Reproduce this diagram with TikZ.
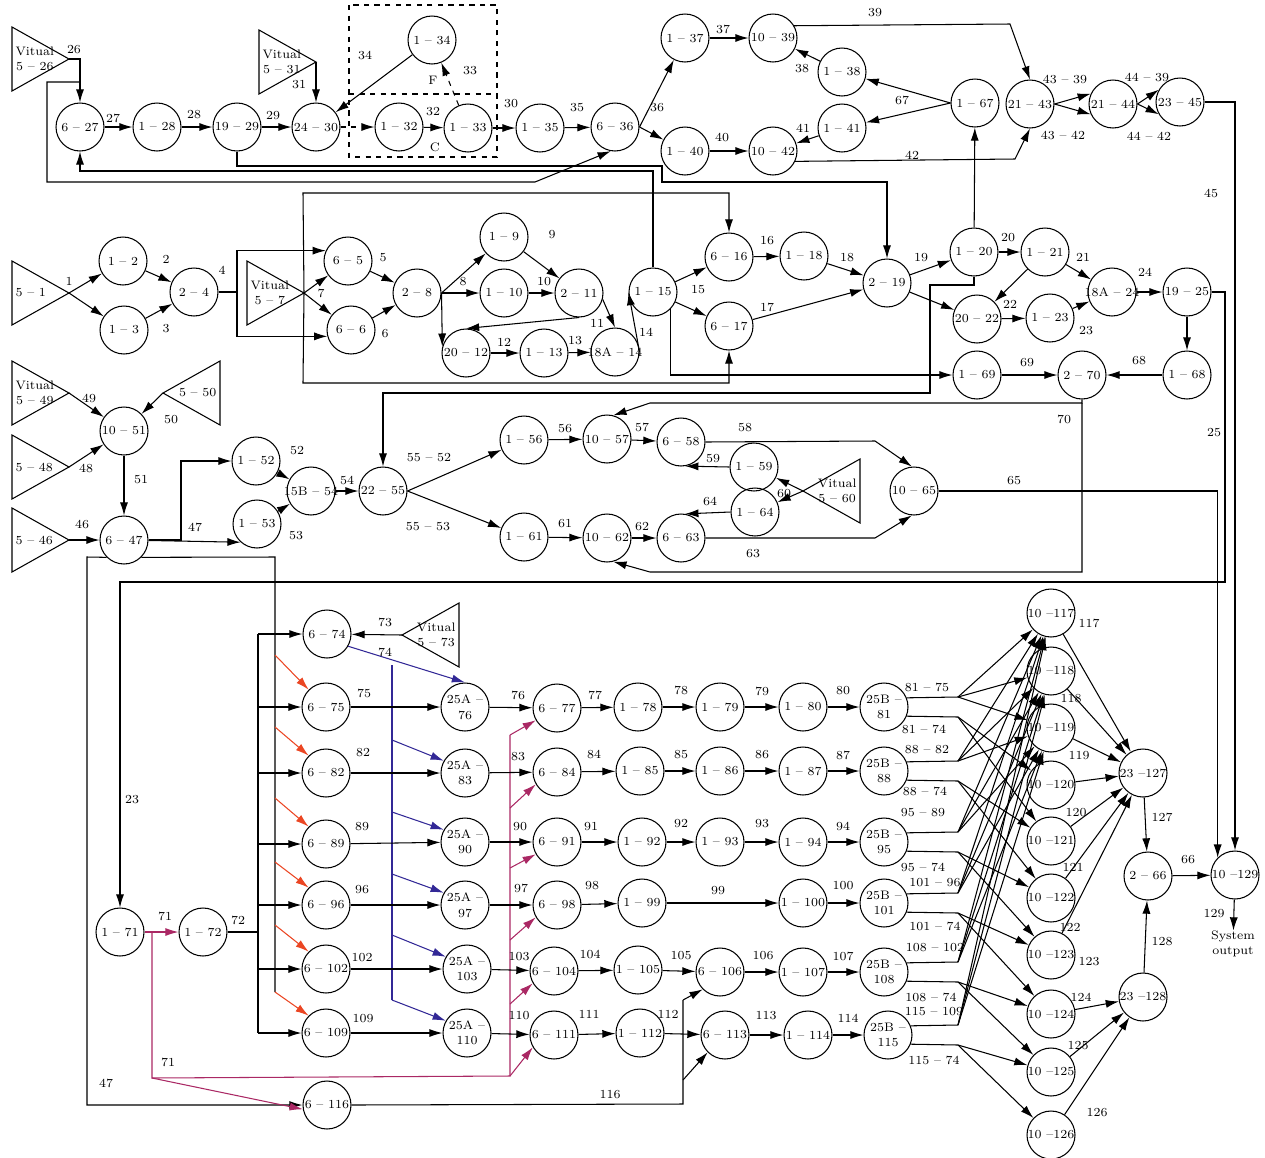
\documentclass[tikz,border=0pt]{standalone}
\usepackage{tikz}
\usetikzlibrary{arrows.meta}
\definecolor{cRed}{RGB}{235,70,35}
\definecolor{cBlue}{RGB}{50,40,150}
\definecolor{cPurple}{RGB}{170,40,100}

\tikzset{
  proc/.style={circle, draw, minimum size=0.96cm, inner sep=0pt},
  lbl/.style={inner sep=0pt},
  ar/.style={-{Latex[length=7.5pt,width=4.6pt]}},
  grp/.style={draw, dashed},
}
% text that does not widen the circle
\newcommand\nlab[1]{\makebox[0pt]{#1}}
\newcommand\nlabb[2]{\makebox[0pt]{\shortstack{#1\\[1pt]#2}}}
% virtual source triangles, apex named #1
\newcommand\vtriR[4]{%
  \draw (#2,#3-32) -- (#2+57,#3) coordinate (#1) -- (#2,#3+32) -- cycle;
  \node[lbl, anchor=west, align=center] (#1t) at (#2+3,#3) {#4};}
\newcommand\vtriL[4]{%
  \draw (#2,#3-32) -- (#2-57,#3) coordinate (#1) -- (#2,#3+32) -- cycle;
  \node[lbl, anchor=east, align=center] (#1t) at (#2-3,#3) {#4};}

\begin{document}
\begin{tikzpicture}[x=0.02cm, y=-0.02cm, font=\fontsize{7}{8.5}\selectfont, line width=0.6pt]
\useasboundingbox (0,0) rectangle (1265,1157);

% top row
\vtriR{v26}{12}{59}{Vitual\\5 – 26}
\vtriR{v31}{259}{62}{Vitual\\5 – 31}
\node[proc] (n627) at (80,127) {\nlab{6 – 27}};
\node[proc] (n128) at (157,127) {\nlab{1 – 28}};
\node[proc] (n1929) at (237,127) {\nlab{19 – 29}};
\node[proc] (n2430) at (316,127) {\nlab{24 – 30}};
\node[proc] (n134) at (432,40) {\nlab{1 – 34}};
\node[proc] (n132) at (399,127) {\nlab{1 – 32}};
\node[proc] (n133) at (468,128) {\nlab{1 – 33}};
\node[proc] (n135) at (540,128) {\nlab{1 – 35}};
\node[proc] (n636) at (615,127) {\nlab{6 – 36}};
\node[proc] (n137) at (685,38) {\nlab{1 – 37}};
\node[proc] (n1039) at (773,38) {\nlab{10 – 39}};
\node[proc] (n138) at (842,72) {\nlab{1 – 38}};
\node[proc] (n141) at (842,128) {\nlab{1 – 41}};
\node[proc] (n140) at (685,151) {\nlab{1 – 40}};
\node[proc] (n1042) at (773,151) {\nlab{10 – 42}};
\node[proc] (n167) at (975,103) {\nlab{1 – 67}};
\node[proc] (n2143) at (1030,104) {\nlab{21 – 43}};
\node[proc] (n2144) at (1113,104) {\nlab{21 – 44}};
\node[proc] (n2345) at (1180,102) {\nlab{23 – 45}};
\draw[grp] (349,5) rectangle (497,157);
\draw[grp] (349,94) -- (497,94);
\node[lbl] (gF) at (433,80) {F};
\node[lbl] (gC) at (435,147) {C};

% middle row
\vtriR{v1}{12}{293}{5 – 1}
\vtriR{v7}{247}{293}{Vitual\\5 – 7}
\node[proc] (n12) at (123,261) {\nlab{1 – 2}};
\node[proc] (n13) at (124,330) {\nlab{1 – 3}};
\node[proc] (n24) at (194,292) {\nlab{2 – 4}};
\node[proc] (n65) at (348,261) {\nlab{6 – 5}};
\node[proc] (n66) at (351,330) {\nlab{6 – 6}};
\node[proc] (n28) at (417,293) {\nlab{2 – 8}};
\node[proc] (n19) at (504,237) {\nlab{1 – 9}};
\node[proc] (n110) at (504,293) {\nlab{1 – 10}};
\node[proc] (n211) at (579,293) {\nlab{2 – 11}};
\node[proc] (n2012) at (466,353) {\nlab{20 – 12}};
\node[proc] (n113) at (544,353) {\nlab{1 – 13}};
\node[proc] (n18A14) at (615,352) {\nlab{18A – 14}};
\node[proc] (n115) at (653,292) {\nlab{1 – 15}};
\node[proc] (n616) at (729,257) {\nlab{6 – 16}};
\node[proc] (n617) at (729,326) {\nlab{6 – 17}};
\node[proc] (n118) at (804,256) {\nlab{1 – 18}};
\node[proc] (n219) at (887,283) {\nlab{2 – 19}};
\node[proc] (n120) at (974,252) {\nlab{1 – 20}};
\node[proc] (n121) at (1045,252) {\nlab{1 – 21}};
\node[proc] (n2022) at (977,319) {\nlab{20 – 22}};
\node[proc] (n123) at (1050,318) {\nlab{1 – 23}};
\node[proc] (n18A24) at (1112,292) {\nlab{18A – 24}};
\node[proc] (n1925) at (1187,292) {\nlab{19 – 25}};
\node[proc] (n169) at (977,375) {\nlab{1 – 69}};
\node[proc] (n270) at (1082,375) {\nlab{2 – 70}};
\node[proc] (n168) at (1187,375) {\nlab{1 – 68}};

% third row
\vtriR{v49}{12}{393}{Vitual\\5 – 49}
\vtriR{v48}{12}{467}{5 – 48}
\vtriR{v46}{12}{540}{5 – 46}
\vtriL{v50}{220}{393}{5 – 50}
\vtriL{v60}{860}{491}{Vitual\\5 – 60}
\node[proc] (n1051) at (124,431) {\nlab{10 – 51}};
\node[proc] (n647) at (124,540) {\nlab{6 – 47}};
\node[proc] (n152) at (256,461) {\nlab{1 – 52}};
\node[proc] (n153) at (257,524) {\nlab{1 – 53}};
\node[proc] (n15B54) at (311,491) {\nlab{15B – 54}};
\node[proc] (n2255) at (383,491) {\nlab{22 – 55}};
\node[proc] (n156) at (524,440) {\nlab{1 – 56}};
\node[proc] (n1057) at (607,439) {\nlab{10 – 57}};
\node[proc] (n161) at (524,537) {\nlab{1 – 61}};
\node[proc] (n1062) at (607,538) {\nlab{10 – 62}};
\node[proc] (n658) at (681,442) {\nlab{6 – 58}};
\node[proc] (n159) at (754,467) {\nlab{1 – 59}};
\node[proc] (n164) at (755,512) {\nlab{1 – 64}};
\node[proc] (n663) at (681,538) {\nlab{6 – 63}};
\node[proc] (n1065) at (914,491) {\nlab{10 – 65}};

% lower block
\vtriL{v73}{459}{635}{Vitual\\5 – 73}
\node[proc] (n171) at (120,932) {\nlab{1 – 71}};
\node[proc] (n172) at (203,932) {\nlab{1 – 72}};
\node[proc] (n674) at (327,634) {\nlab{6 – 74}};
\node[proc] (n675) at (326,707) {\nlab{6 – 75}};
\node[proc] (n682) at (326,773) {\nlab{6 – 82}};
\node[proc] (n689) at (326,844) {\nlab{6 – 89}};
\node[proc] (n696) at (326,905) {\nlab{6 – 96}};
\node[proc] (n6102) at (326,969) {\nlab{6 – 102}};
\node[proc] (n6109) at (326,1033) {\nlab{6 – 109}};
\node[proc] (n6116) at (327,1105) {\nlab{6 – 116}};
\node[proc] (n25A76) at (465,707) {\nlabb{25A –}{76}};
\node[proc] (n25A83) at (465,773) {\nlabb{25A –}{83}};
\node[proc] (n25A90) at (465,842) {\nlabb{25A –}{90}};
\node[proc] (n25A97) at (465,905) {\nlabb{25A –}{97}};
\node[proc] (n25A103) at (467,969) {\nlabb{25A –}{103}};
\node[proc] (n25A110) at (467,1033) {\nlabb{25A –}{110}};
\node[proc] (n677) at (557,708) {\nlab{6 – 77}};
\node[proc] (n684) at (557,772) {\nlab{6 – 84}};
\node[proc] (n691) at (557,842) {\nlab{6 – 91}};
\node[proc] (n698) at (557,905) {\nlab{6 – 98}};
\node[proc] (n6104) at (554,971) {\nlab{6 – 104}};
\node[proc] (n6111) at (554,1035) {\nlab{6 – 111}};
\node[proc] (n178) at (638,707) {\nlab{1 – 78}};
\node[proc] (n179) at (720,707) {\nlab{1 – 79}};
\node[proc] (n180) at (803,707) {\nlab{1 – 80}};
\node[proc] (n25B81) at (884,707) {\nlabb{25B –}{81}};
\node[proc] (n185) at (640,771) {\nlab{1 – 85}};
\node[proc] (n186) at (720,771) {\nlab{1 – 86}};
\node[proc] (n187) at (803,771) {\nlab{1 – 87}};
\node[proc] (n25B88) at (884,771) {\nlabb{25B –}{88}};
\node[proc] (n192) at (642,842) {\nlab{1 – 92}};
\node[proc] (n193) at (720,842) {\nlab{1 – 93}};
\node[proc] (n194) at (803,842) {\nlab{1 – 94}};
\node[proc] (n25B95) at (884,842) {\nlabb{25B –}{95}};
\node[proc] (n199) at (642,903) {\nlab{1 – 99}};
\node[proc] (n1100) at (803,903) {\nlab{1 – 100}};
\node[proc] (n25B101) at (884,903) {\nlabb{25B –}{101}};
\node[proc] (n1105) at (638,970) {\nlab{1 – 105}};
\node[proc] (n6106) at (720,972) {\nlab{6 – 106}};
\node[proc] (n1107) at (803,972) {\nlab{1 – 107}};
\node[proc] (n25B108) at (884,972) {\nlabb{25B –}{108}};
\node[proc] (n1112) at (640,1033) {\nlab{1 – 112}};
\node[proc] (n6113) at (725,1035) {\nlab{6 – 113}};
\node[proc] (n1114) at (808,1035) {\nlab{1 – 114}};
\node[proc] (n25B115) at (888,1035) {\nlabb{25B –}{115}};
\foreach \k/\yy in {117/613, 118/671, 119/728, 120/785, 121/841,
                    122/898, 123/955, 124/1014, 125/1072, 126/1135}
  \node[proc] (n10\k) at (1051,\yy) {\nlab{10 –\k}};
\node[proc] (n23127) at (1143,773) {\nlab{23 –127}};
\node[proc] (n266) at (1148,876) {\nlab{2 – 66}};
\node[proc] (n23128) at (1143,997) {\nlab{23 –128}};
\node[proc] (n10129) at (1235,875) {\nlab{10 –129}};
\node[lbl, align=center] (sysout) at (1233,944) {System\\output};

% connectors, top
\coordinate (j26) at (80,82);
\draw[ar] (v26) -| (n627);
\draw[ar] (j26) -| (47,182) -- (535,182) -- (n636.-100);
\draw[ar] (n627) -- (n128);
\draw[ar] (n128) -- (n1929);
\draw[ar] (n1929) -- (n2430);
\draw[ar] (v31) -- (n2430);
\draw[ar] (n134) -- (n2430);
\draw[ar, dashed] (n2430) -- (n132);
\draw[ar] (n132) -- (n133);
\draw[ar, dashed] (n133) -- (n134);
\draw[ar] (n133) -- (n135);
\draw[ar] (n135) -- (n636);
\draw[ar] (n636.east) -- (n137);
\draw[ar] (n636.east) -- (n140);
\draw[ar] (n137) -- (n1039);
\draw[ar] (n138) -- (n1039);
\draw[ar] (n167.west) -- (n138);
\draw[ar] (n167.west) -- (n141);
\draw[ar] (n141) -- (n1042);
\draw[ar] (n140) -- (n1042);
\draw[ar] (n1039.30) -- (1010,24) -- (n2143.north);
\draw[ar] (n1042.-25) -- (1015,159) -- (n2143.south);
\draw[ar] (n2143.east) -- (n2144.155);
\draw[ar] (n2143.east) -- (n2144.-155);
\draw[ar] (n2144.east) -- (n2345.150);
\draw[ar] (n2144.east) -- (n2345.-150);
\draw[ar] (n2345.east) -| (n10129.north);
\draw[ar] (n120) -- (n167);
\draw[ar] (n1929.south) |- (662,166) |- (887,182) -- (n219);
\draw[ar] (n115.north) |- (80,171) -- (n627);

% connectors, middle
\coordinate (j4) at (237,292);
\draw[ar] (v1) -- (n12);
\draw[ar] (v1) -- (n13);
\draw[ar] (n12) -- (n24);
\draw[ar] (n13) -- (n24);
\draw (n24) -- (j4);
\draw[ar] (j4) |- (n65.155);
\draw[ar] (j4) |- (n66.-165);
\draw[ar] (v7) -- (n65);
\draw[ar] (v7) -- (n66);
\draw[ar] (v7) -- (303,193) -| (n616);
\draw[ar] (v7) -- (303,383) -| (n617);
\draw[ar] (n65) -- (n28);
\draw[ar] (n66) -- (n28);
\draw[ar] (n28.east) -- (n19);
\draw[ar] (n28) -- (n110);
\draw[ar] (n28.east) -- (n2012.165);
\draw[ar] (n19) -- (n211);
\draw[ar] (n110) -- (n211);
\draw[ar] (n211.-15) -- (n18A14.north);
\draw[ar] (n211.south) -- (n2012.north);
\draw[ar] (n2012) -- (n113);
\draw[ar] (n113) -- (n18A14);
\draw[ar] (n18A14.east) -- (n115.west);
\draw[ar] (n115) -- (n616);
\draw[ar] (n115) -- (n617);
\draw[ar] (n616) -- (n118);
\draw[ar] (n118) -- (n219);
\draw[ar] (n617) -- (n219);
\draw[ar] (n115.-45) |- (n169);
\draw[ar] (n219) -- (n120);
\draw[ar] (n219) -- (n2022);
\draw[ar] (n120) -- (n121);
\draw[ar] (n121) -- (n18A24);
\draw[ar] (n121) -- (n2022);
\draw[ar] (n2022) -- (n123);
\draw[ar] (n123) -- (n18A24);
\draw[ar] (n18A24) -- (n1925);
\draw[ar] (n1925) -- (n168);
\draw[ar] (n168) -- (n270);
\draw[ar] (n169) -- (n270);
\draw[ar] (n1925.east) -- (1225,292) -- (1225,582) -| (n171);
\draw[ar] (n120.south) -- (974,285) -- (930,285) -- (930,393) -| (n2255);
\coordinate (j70) at (1082,403);
\draw[ar] (n270) -- (j70) -- (650,403) -- (n1057.75);
\draw[ar] (j70) -- (1082,572) -- (650,572) -- (n1062.-75);

% connectors, third row
\draw[ar] (v49) -- (n1051);
\draw[ar] (v48) -- (n1051);
\draw[ar] (v50) -- (n1051);
\draw[ar] (n1051) -- (n647);
\draw[ar] (v46) -- (n647);
\draw[ar] (n647) -- (181,540) |- (n152);
\draw[ar] (n647) -- (n153.-132);
\draw[ar] (n152) -- (n15B54);
\draw[ar] (n153) -- (n15B54);
\draw[ar] (n15B54) -- (n2255);
\draw[ar] (n2255.east) -- (n156);
\draw[ar] (n2255.east) -- (n161);
\draw[ar] (n156) -- (n1057);
\draw[ar] (n161) -- (n1062);
\draw[ar] (n1057) -- (n658);
\draw[ar] (n1062) -- (n663);
\draw[ar] (n658.east) -- (875,441) -- (n1065.95);
\draw[ar] (n663.east) -- (875,538) -- (n1065.-95);
\draw[ar] (n159.west) -- (n658.-80);
\draw[ar] (n164.west) -- (n663.80);
\draw[ar] (v60) -- (n159);
\draw[ar] (v60) -- (n164);
\draw[ar] (n1065.east) -| (n10129.135);

% connectors, lower block
\coordinate (j72) at (258,932);
\coordinate (j47) at (275,557);
\coordinate (j71) at (152,932);
\coordinate (j71b) at (152,1078);
\draw[ar] (n647.-135) -- (87,557) |- (n6116);
\draw (n647.-45) -- (j47) -- (275,992);
\foreach \t/\sy in {675/655, 682/727, 689/798, 696/862, 6102/925, 6109/992}
  \draw[ar, cRed] (275,\sy) -- (n\t.135);
\draw[ar, cPurple] (n171) -- (n172);
\draw[cPurple] (j71) -- (j71b) -- (510,1076) -- (510,735);
\draw[ar, cPurple] (j71b) -- (n6116.-170);
\foreach \t/\sy in {677/735, 684/808, 691/868, 698/940, 6104/1004, 6111/1076}
  \draw[ar, cPurple] (510,\sy) -- (n\t.-150);
\draw (n172) -- (j72);
\draw (258,634) -- (258,1033);
\foreach \t in {674,675,682,689,696,6102,6109}
  \draw[ar] (n\t.west -| j72) -- (n\t.west);
\draw[ar] (v73) -- (n674);
\draw[ar, cBlue] (n674.-30) -- (n25A76.north);
\draw[cBlue] (392,665) -- (392,1000);
\foreach \t/\sy in {25A83/740, 25A90/812, 25A97/874, 25A103/935, 25A110/1000}
  \draw[ar, cBlue] (392,\sy) -- (n\t.150);
\foreach \a/\b in {675/25A76, 25A76/677, 677/178, 178/179, 179/180, 180/25B81,
                   682/25A83, 25A83/684, 684/185, 185/186, 186/187, 187/25B88,
                   689/25A90, 25A90/691, 691/192, 192/193, 193/194, 194/25B95,
                   696/25A97, 25A97/698, 698/199, 199/1100, 1100/25B101,
                   6102/25A103, 25A103/6104, 6104/1105, 1105/6106, 6106/1107, 1107/25B108,
                   6109/25A110, 25A110/6111, 6111/1112, 1112/6113, 6113/1114, 1114/25B115}
  \draw[ar] (n\a) -- (n\b);
\draw (n6116.east) -- (683,1104) -- (683,1000);
\draw[ar] (683,1080) -- (n6113.-135);
\draw[ar] (683,1000) -- (n6106.-135);
% fan from 25B nodes
\foreach \k/\yy in {81/707, 88/771, 95/842, 101/903, 108/972, 115/1035} {
  \coordinate (u\k) at (958,\yy-10);
  \coordinate (d\k) at (958,\yy+10);
  \draw (n25B\k.22) -- (u\k);
  \draw (n25B\k.-22) -- (d\k);
}
\foreach \k in {81,88,95,101,108,115}
  \foreach \t in {117,118,119}
    \draw[ar] (u\k) -- (n10\t);
\foreach \k/\ta/\tb in {81/120/121, 88/121/122, 95/122/123, 101/123/124, 108/124/125, 115/125/126} {
  \draw[ar] (d\k) -- (n10\ta);
  \draw[ar] (d\k) -- (n10\tb);
}
\foreach \t in {117,...,123}
  \draw[ar] (n10\t) -- (n23127);
\foreach \t in {124,125,126}
  \draw[ar] (n10\t) -- (n23128);
\draw[ar] (n23127) -- (n266);
\draw[ar] (n23128) -- (n266);
\draw[ar] (n266) -- (n10129);
\draw[ar] (n10129) -- (sysout);

% connector labels
\foreach \tx/\px/\py [count=\i] in {
  26/74/50, 27/113/118, 28/194/115, 29/273/116, 31/299/85, 34/365/55,
  33/470/71, 32/433/112, 30/511/104, 35/577/108, 36/657/108, 37/723/29,
  38/802/69, 39/875/13, 67/902/100, 41/803/128, 40/722/137, 42/912/155,
  43 – 39/1065/79, 43 – 42/1063/135, 44 – 39/1147/77, 44 – 42/1149/136, 45/1211/193,
  1/69/281, 2/166/259, 3/166/329, 4/222/270, 7/321/293, 5/383/258, 6/385/334,
  8/463/282, 9/552/235, 10/544/282, 11/597/323, 12/504/342, 13/575/341,
  14/646/332, 15/698/290, 16/767/241, 17/767/307, 18/847/258, 19/921/258,
  20/1008/238, 21/1083/257, 22/1010/304, 23/1086/331, 24/1145/272,
  68/1139/361, 69/1027/363, 70/1064/419, 25/1214/433, 65/1014/481,
  49/89/398, 50/171/420, 48/86/468, 51/141/480, 46/82/524, 47/195/527,
  52/297/451, 53/296/536, 54/347/480, 55 – 52/429/458, 55 – 53/428/527,
  56/565/429, 61/565/524, 57/642/427, 62/642/527, 58/745/428, 59/713/459,
  60/784/494, 64/710/501, 63/753/554, 23/132/800, 47/106/1083,
  73/385/622, 74/385/652, 75/364/693, 82/363/753, 89/362/827, 96/362/890,
  102/362/958, 109/363/1019, 71/165/916, 71/168/1062, 72/238/920, 116/610/1095,
  76/518/695, 77/595/695, 78/681/690, 79/762/691, 80/843/691,
  83/518/757, 84/594/754, 85/681/755, 86/762/755, 87/843/755,
  90/520/827, 91/591/827, 92/681/824, 93/762/824, 94/843/826,
  97/521/888, 98/592/886, 99/718/891, 100/843/886,
  103/519/957, 104/590/954, 105/681/956, 106/763/956, 107/843/956,
  110/519/1016, 111/589/1014, 112/668/1014, 113/766/1016, 114/848/1018,
  81 – 75/927/687, 81 – 74/924/729, 88 – 82/927/750, 88 – 74/925/791,
  95 – 89/923/813, 95 – 74/923/867, 101 – 96/935/883, 101 – 74/935/926,
  108 – 102/935/948, 108 – 74/931/997, 115 – 109/934/1012, 115 – 74/934/1060,
  117/1089/623, 118/1071/699, 119/1079/756, 120/1076/813, 121/1073/867,
  122/1070/927, 123/1089/962, 124/1081/997, 125/1078/1046, 126/1097/1113,
  127/1162/817, 128/1162/942, 66/1188/860, 129/1214/914}
  \node[lbl] (lab\i) at (\px,\py) {\tx};
\end{tikzpicture}
\end{document}
